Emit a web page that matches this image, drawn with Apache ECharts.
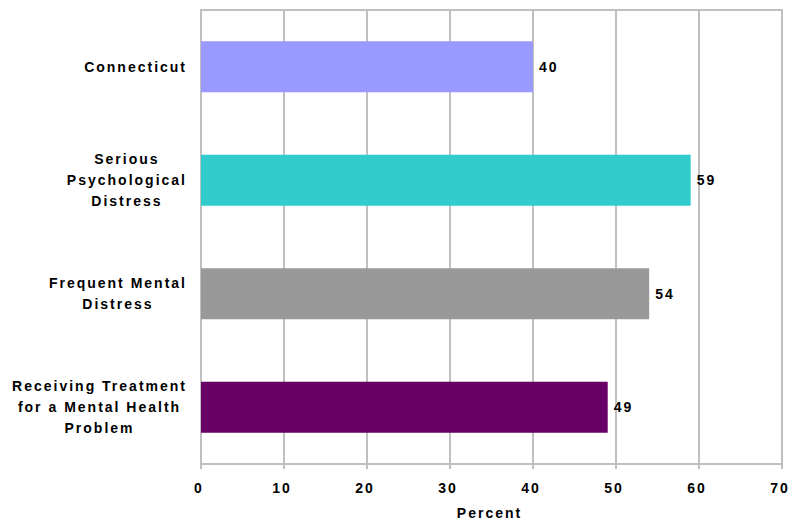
<!DOCTYPE html>
<html>
<head>
<meta charset="utf-8">
<script src="https://cdn.jsdelivr.net/npm/echarts@6/dist/echarts.min.js"></script>
<style>
  html, body { margin: 0; padding: 0; background: #fff; overflow: hidden; }
  #chart { width: 788px; height: 522px; }
  /* spaced-out lettering for all chart text */
  #chart text { letter-spacing: 2px; }
</style>
</head>
<body>
<div id="chart"></div>
<script>
// Share of adults by group (percent)
const categories = [
  'Connecticut',
  'Serious\nPsychological\nDistress',
  'Frequent Mental\nDistress',
  'Receiving Treatment\nfor a Mental Health\nProblem'
];
const values = [40, 59, 54, 49];
const barColors = ['#9999FF', '#33CCCC', '#999999', '#660066'];
const xTicks = { min: 0, max: 70, interval: 10 };
const axisTitle = 'Percent';

const gridGray = '#c0c0c0';
const font = 'Liberation Sans, Arial, sans-serif';
const textBase = { fontFamily: font, fontWeight: 'bold', fontSize: 14, color: '#000' };

// Measure text with the same letter spacing the SVG text is drawn with,
// so label alignment accounts for the wider words.
const measureCtx = document.createElement('canvas').getContext('2d');
echarts.setPlatformAPI({
  measureText(text, f) {
    measureCtx.font = f || '12px sans-serif';
    measureCtx.letterSpacing = '2px';
    return measureCtx.measureText(text);
  }
});

const chart = echarts.init(document.getElementById('chart'), null, { renderer: 'svg' });
chart.setOption({
  animation: false,
  grid: {
    left: 201, right: 6, top: 10, bottom: 58,
    outerBoundsMode: 'none',
    containLabel: false,
    show: true, borderColor: gridGray, borderWidth: 2
  },
  xAxis: {
    type: 'value',
    min: xTicks.min, max: xTicks.max, interval: xTicks.interval,
    name: axisTitle,
    nameLocation: 'middle',
    nameGap: 41,
    nameTextStyle: Object.assign({ padding: [0, 4, 0, 0] }, textBase),
    axisLine: { show: true, lineStyle: { color: gridGray, width: 2 } },
    axisTick: { show: true, length: 5, lineStyle: { color: gridGray, width: 2 } },
    axisLabel: Object.assign({ margin: 16, padding: [0, 4, 0, 0] }, textBase),
    splitLine: { show: true, lineStyle: { color: gridGray, width: 2 } }
  },
  yAxis: {
    type: 'category',
    inverse: true,
    data: categories,
    axisLine: { show: true, lineStyle: { color: gridGray, width: 2 } },
    axisTick: { show: false },
    axisLabel: Object.assign({
      margin: 14,
      lineHeight: 21,
      formatter: (v) => v.split('\n').map(l => '{c|' + l + '}').join('\n'),
      rich: {
        c: Object.assign({ align: 'center', lineHeight: 21 }, textBase)
      }
    }, textBase)
  },
  series: [{
    type: 'bar',
    data: values.map((v, i) => ({ value: v, itemStyle: { color: barColors[i] } })),
    barWidth: '45%',
    label: Object.assign({ show: true, position: 'right', distance: 6 }, textBase)
  }]
});
</script>
</body>
</html>
